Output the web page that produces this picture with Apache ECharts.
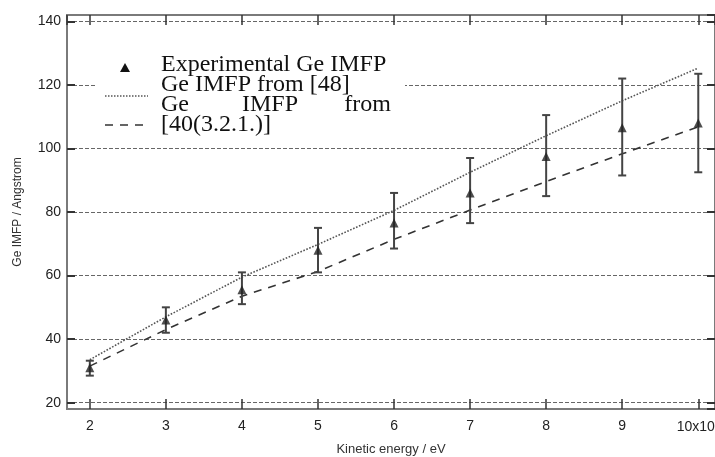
<!DOCTYPE html>
<html>
<head>
<meta charset="utf-8">
<script src="https://cdn.jsdelivr.net/npm/echarts@6/dist/echarts.min.js"></script>
<style>
html,body{margin:0;padding:0;background:#fff;}
#chart{width:715px;height:457px;}
</style>
</head>
<body>
<div id="chart"></div>
<script>
// Kinetic energy (x10^3 eV)
const energies = [2, 3, 4, 5, 6, 7, 8, 9, 10];
// Experimental Ge IMFP (Angstrom)
const expIMFP = [31, 46, 55.5, 68, 76.5, 86, 97.5, 106.5, 108];
const expErrLow = [28.5, 42, 51, 61, 68.5, 76.5, 85, 91.5, 92.5];
const expErrHigh = [33.2, 50, 61, 75, 86, 97, 110.5, 122, 123.5];
// Ge IMFP from [48]
const ref48 = [33.5, 47, 59.5, 69.8, 80.5, 92.5, 104, 115, 125.3];
// Ge IMFP from [40(3.2.1.)]
const ref40 = [31.5, 43, 53.5, 61.3, 71.4, 80.6, 89.6, 98.3, 106.8];
// tick labels
const xTickLabels = {2:'2',3:'3',4:'4',5:'5',6:'6',7:'7',8:'8',9:'9',10:'10x10{sup|3}'};
const legendLabels = ['Experimental Ge IMFP', 'Ge IMFP from [48]', ['Ge', 'IMFP', 'from'], '[40(3.2.1.)]'];

const chart = echarts.init(document.getElementById('chart'), null, {renderer: 'canvas'});

const axisGray = '#7a7a7a';
const labelFont = {fontFamily: 'Liberation Sans, Arial, sans-serif', fontSize: 14, color: '#222'};

const pair = (ys) => energies.map((x, i) => [x, ys[i]]);

const serif = 'Liberation Serif, Times New Roman, serif';
const legendText = (x, y, text, align) => ({
  type: 'text', x: x, y: y, z: 100,
  style: {text: text, fontFamily: serif, fontSize: 24, fill: '#111', align: align || 'left', verticalAlign: 'middle'}
});

const option = {
  animation: false,
  backgroundColor: '#fff',
  grid: {left: 67, right: 0, top: 15, bottom: 48, show: true, borderColor: axisGray, borderWidth: 2,
    backgroundColor: 'transparent', containLabel: false, outerBoundsMode: 'none'},
  xAxis: [{
    type: 'value', min: 1.7, max: 10.22, splitNumber: 8,
    position: 'bottom',
    name: 'Kinetic energy / eV', nameLocation: 'middle', nameGap: 34,
    nameTextStyle: {fontFamily: 'Liberation Sans, Arial, sans-serif', fontSize: 13, color: '#333'},
    axisLine: {show: true, onZero: false, lineStyle: {color: axisGray, width: 2}},
    axisTick: {show: true, inside: true, length: 10, lineStyle: {color: '#333', width: 1.5}},
    axisLabel: Object.assign({}, labelFont, {margin: 10, showMinLabel: false, showMaxLabel: false,
      formatter: v => xTickLabels[Math.round(v*1000)/1000] || '',
      rich: {sup: {fontFamily: 'Liberation Sans, Arial, sans-serif', fontSize: 9, color: '#222', verticalAlign: 'top', padding: [0,0,8,0]}}}),
    splitLine: {show: false}
  }, {
    type: 'value', min: 1.7, max: 10.22, splitNumber: 8,
    position: 'top',
    axisLine: {show: true, onZero: false, lineStyle: {color: axisGray, width: 2}},
    axisTick: {show: true, inside: true, length: 10, lineStyle: {color: '#333', width: 1.5}},
    axisLabel: {show: false},
    splitLine: {show: false}
  }],
  yAxis: [{
    type: 'value', min: 18, max: 142,
    name: 'Ge IMFP / Angstrom', nameLocation: 'middle', nameGap: 43,
    nameTextStyle: {fontFamily: 'Liberation Sans, Arial, sans-serif', fontSize: 12, color: '#333'},
    axisLine: {show: true, onZero: false, lineStyle: {color: axisGray, width: 2}},
    axisTick: {show: true, inside: true, length: 8, lineStyle: {color: '#333', width: 2}},
    axisLabel: Object.assign({}, labelFont, {margin: 6, showMinLabel: false, showMaxLabel: false}),
    splitLine: {show: true, lineStyle: {color: '#666', width: 1, type: [4, 2]}}
  }, {
    type: 'value', min: 18, max: 142, position: 'right',
    axisLine: {show: true, onZero: false, lineStyle: {color: axisGray, width: 2}},
    axisTick: {show: true, inside: true, length: 8, lineStyle: {color: '#333', width: 2}},
    axisLabel: {show: false},
    splitLine: {show: false}
  }],
  graphic: [
    {type: 'rect', shape: {x: 97, y: 45, width: 308, height: 95}, style: {fill: '#fff'}, z: 50},
    {type: 'polygon', shape: {points: [[125, 63], [120, 72], [130, 72]]}, style: {fill: '#111'}, z: 100},
    {type: 'line', shape: {x1: 105, y1: 96, x2: 148, y2: 96}, style: {stroke: '#555', lineWidth: 1.5, lineDash: [1.5, 1.5]}, z: 100},
    {type: 'line', shape: {x1: 105, y1: 125, x2: 146, y2: 125}, style: {stroke: '#333', lineWidth: 1.5, lineDash: [8, 7]}, z: 100},
    legendText(161, 65, legendLabels[0]),
    legendText(161, 85, legendLabels[1]),
    legendText(161, 105, legendLabels[2][0]),
    legendText(270, 105, legendLabels[2][1], 'center'),
    legendText(391, 105, legendLabels[2][2], 'right'),
    legendText(161, 125, legendLabels[3])
  ],
  series: [
    {
      name: 'Ge IMFP from [48]', type: 'line', data: pair(ref48), symbol: 'none', z: 3,
      lineStyle: {color: '#555', width: 1.6, type: [1.6, 1.6]}
    },
    {
      name: 'Ge IMFP from [40(3.2.1.)]', type: 'line', data: pair(ref40), symbol: 'none', z: 3,
      lineStyle: {color: '#333', width: 1.6, type: [8, 7]}
    },
    {
      name: 'error', type: 'custom', z: 4,
      data: energies.map((x, i) => [x, expErrLow[i], expErrHigh[i]]),
      renderItem: function (params, api) {
        const x = api.value(0);
        const lo = api.coord([x, api.value(1)]);
        const hi = api.coord([x, api.value(2)]);
        const w = 4;
        const st = {stroke: '#444', lineWidth: 2};
        return {type: 'group', children: [
          {type: 'line', shape: {x1: lo[0], y1: lo[1], x2: hi[0], y2: hi[1]}, style: st},
          {type: 'line', shape: {x1: lo[0]-w, y1: lo[1], x2: lo[0]+w, y2: lo[1]}, style: st},
          {type: 'line', shape: {x1: hi[0]-w, y1: hi[1], x2: hi[0]+w, y2: hi[1]}, style: st}
        ]};
      }
    },
    {
      name: 'Experimental Ge IMFP', type: 'scatter', data: pair(expIMFP), z: 5,
      symbol: 'triangle', symbolSize: 9, itemStyle: {color: '#222'}
    }
  ]
};
chart.setOption(option);
</script>
</body>
</html>
